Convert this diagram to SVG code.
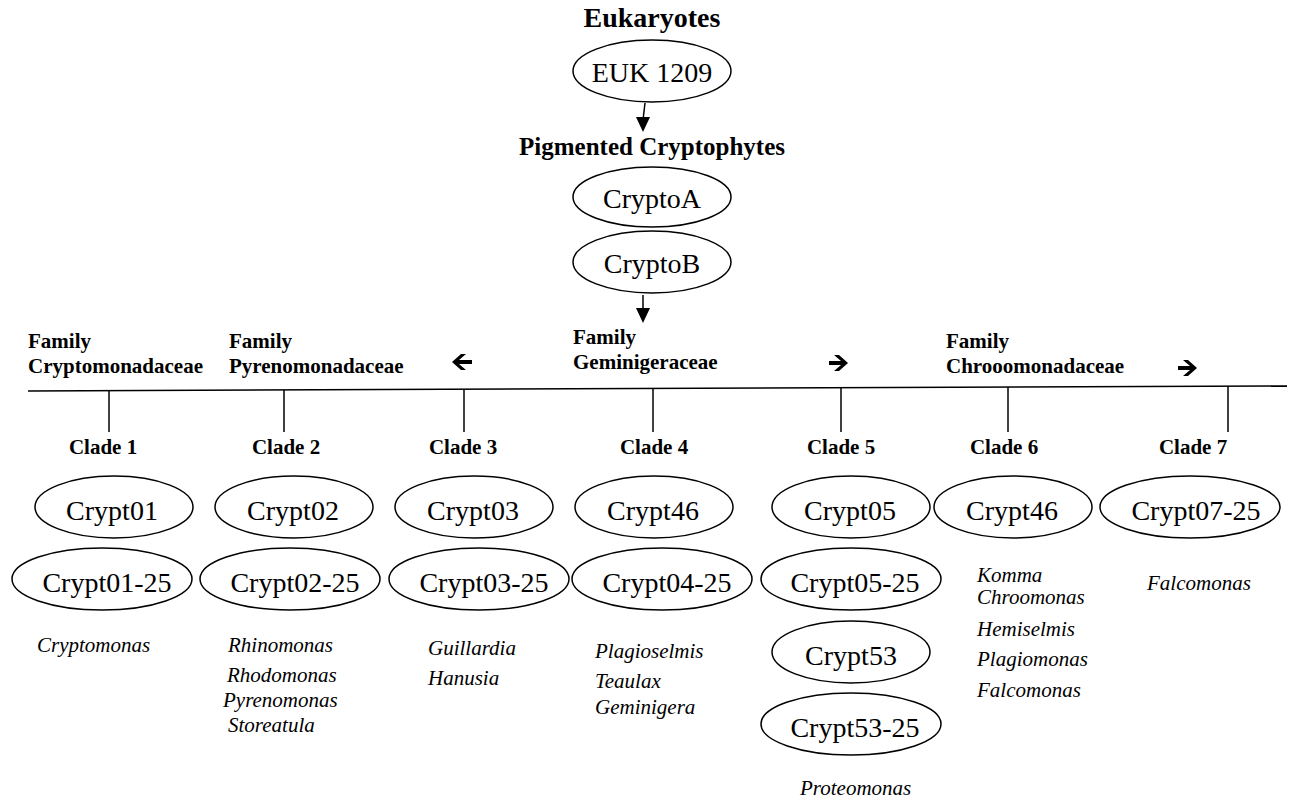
<svg xmlns="http://www.w3.org/2000/svg" width="1295" height="803" viewBox="0 0 1295 803">
<style>
text{font-family:"Liberation Serif","Times New Roman",serif;fill:#000}
.h{font-weight:bold;font-size:28px;text-anchor:middle}
.p{font-weight:bold;font-size:25px;text-anchor:middle}
.b{font-weight:bold;font-size:21px}
.c{font-weight:bold;font-size:21px;text-anchor:middle}
.n{font-size:28px;text-anchor:middle}
.g{font-style:italic;font-size:21px}
ellipse{fill:#fff;stroke:#000;stroke-width:1.5}
line{stroke:#000;stroke-width:1.5}
.ar{fill:#000}
</style>
<rect width="1295" height="803" fill="#fff"/>
<g id="titles">
<text class="h" x="652" y="27">Eukaryotes</text>
<text class="p" x="652" y="155">Pigmented Cryptophytes</text>
</g>
<g id="euk1209"><ellipse cx="652" cy="71" rx="79" ry="31"/><text class="n" x="652" y="82">EUK 1209</text></g>
<g id="cryptoA"><ellipse cx="652" cy="197" rx="79" ry="30"/><text class="n" x="652" y="208">CryptoA</text></g>
<g id="cryptoB"><ellipse cx="652" cy="262" rx="79" ry="31"/><text class="n" x="652" y="273">CryptoB</text></g>
<g id="connectors">
<path d="M645,103 L643,120" stroke="#000" stroke-width="1.5" fill="none"/>
<path class="ar" d="M636,117 L650,117 L643,132 Z"/>
<path d="M643,295 L643,310" stroke="#000" stroke-width="1.5" fill="none"/>
<path class="ar" d="M636,308 L650,308 L643,323 Z"/>
<line x1="28" y1="391" x2="1287" y2="386"/>
<line x1="109" y1="391" x2="109" y2="432"/>
<line x1="284" y1="390" x2="284" y2="432"/>
<line x1="464" y1="389" x2="464" y2="432"/>
<line x1="653" y1="389" x2="653" y2="432"/>
<line x1="841" y1="388" x2="841" y2="432"/>
<line x1="1008" y1="387" x2="1008" y2="432"/>
<line x1="1228" y1="386" x2="1228" y2="432"/>
<path class="ar" d="M452,362 L461,354 L466,354 L459,360 L472,360 L472,364 L459,364 L466,370 L461,370 Z"/>
<path class="ar" d="M848,363 L839,355 L834,355 L841,361 L829,361 L829,365 L841,365 L834,371 L839,371 Z"/>
<path class="ar" d="M1197,368 L1188,360 L1183,360 L1190,366 L1178,366 L1178,370 L1190,370 L1183,376 L1188,376 Z"/>
</g>
<g id="families">
<text class="b" x="28" y="348">Family</text>
<text class="b" x="28" y="373">Cryptomonadaceae</text>
<text class="b" x="229" y="348">Family</text>
<text class="b" x="229" y="373">Pyrenomonadaceae</text>
<text class="b" x="573" y="344">Family</text>
<text class="b" x="573" y="369">Geminigeraceae</text>
<text class="b" x="946" y="348">Family</text>
<text class="b" x="946" y="373">Chrooomonadaceae</text>
</g>
<g id="clades">
<text class="c" x="103" y="454">Clade 1</text>
<text class="c" x="286" y="454">Clade 2</text>
<text class="c" x="463" y="454">Clade 3</text>
<text class="c" x="654" y="454">Clade 4</text>
<text class="c" x="841" y="454">Clade 5</text>
<text class="c" x="1004" y="454">Clade 6</text>
<text class="c" x="1193" y="454">Clade 7</text>
</g>
<g id="crypt01"><ellipse cx="114" cy="507" rx="79" ry="31"/><text class="n" x="112" y="520">Crypt01</text></g>
<g id="crypt02"><ellipse cx="294" cy="507" rx="79" ry="31"/><text class="n" x="293" y="520">Crypt02</text></g>
<g id="crypt03"><ellipse cx="474" cy="507" rx="79" ry="31"/><text class="n" x="473" y="520">Crypt03</text></g>
<g id="crypt46a"><ellipse cx="654" cy="507" rx="79" ry="31"/><text class="n" x="653" y="520">Crypt46</text></g>
<g id="crypt05"><ellipse cx="851" cy="507" rx="79" ry="31"/><text class="n" x="850" y="520">Crypt05</text></g>
<g id="crypt46b"><ellipse cx="1013" cy="507" rx="79" ry="31"/><text class="n" x="1012" y="520">Crypt46</text></g>
<g id="crypt07-25"><ellipse cx="1190" cy="507" rx="90" ry="31"/><text class="n" x="1196" y="520">Crypt07-25</text></g>
<g id="crypt01-25"><ellipse cx="102" cy="579" rx="90" ry="31"/><text class="n" x="107" y="592">Crypt01-25</text></g>
<g id="crypt02-25"><ellipse cx="290" cy="579" rx="90" ry="31"/><text class="n" x="295" y="592">Crypt02-25</text></g>
<g id="crypt03-25"><ellipse cx="479" cy="579" rx="90" ry="31"/><text class="n" x="484" y="592">Crypt03-25</text></g>
<g id="crypt04-25"><ellipse cx="662" cy="579" rx="90" ry="31"/><text class="n" x="667" y="592">Crypt04-25</text></g>
<g id="crypt05-25"><ellipse cx="851" cy="579" rx="90" ry="31"/><text class="n" x="855" y="592">Crypt05-25</text></g>
<g id="crypt53"><ellipse cx="851" cy="652" rx="79" ry="31"/><text class="n" x="851" y="665">Crypt53</text></g>
<g id="crypt53-25"><ellipse cx="851" cy="724" rx="90" ry="31"/><text class="n" x="855" y="737">Crypt53-25</text></g>
<g id="genera">
<text class="g" x="37" y="652">Cryptomonas</text>
<text class="g" x="228" y="652">Rhinomonas</text>
<text class="g" x="227" y="682">Rhodomonas</text>
<text class="g" x="223" y="707">Pyrenomonas</text>
<text class="g" x="228" y="732">Storeatula</text>
<text class="g" x="428" y="655">Guillardia</text>
<text class="g" x="428" y="685">Hanusia</text>
<text class="g" x="595" y="658">Plagioselmis</text>
<text class="g" x="595" y="688">Teaulax</text>
<text class="g" x="595" y="714">Geminigera</text>
<text class="g" x="977" y="582">Komma</text>
<text class="g" x="977" y="604">Chroomonas</text>
<text class="g" x="977" y="636">Hemiselmis</text>
<text class="g" x="977" y="666">Plagiomonas</text>
<text class="g" x="977" y="697">Falcomonas</text>
<text class="g" x="1147" y="590">Falcomonas</text>
<text class="g" x="800" y="795">Proteomonas</text>
</g>
</svg>
